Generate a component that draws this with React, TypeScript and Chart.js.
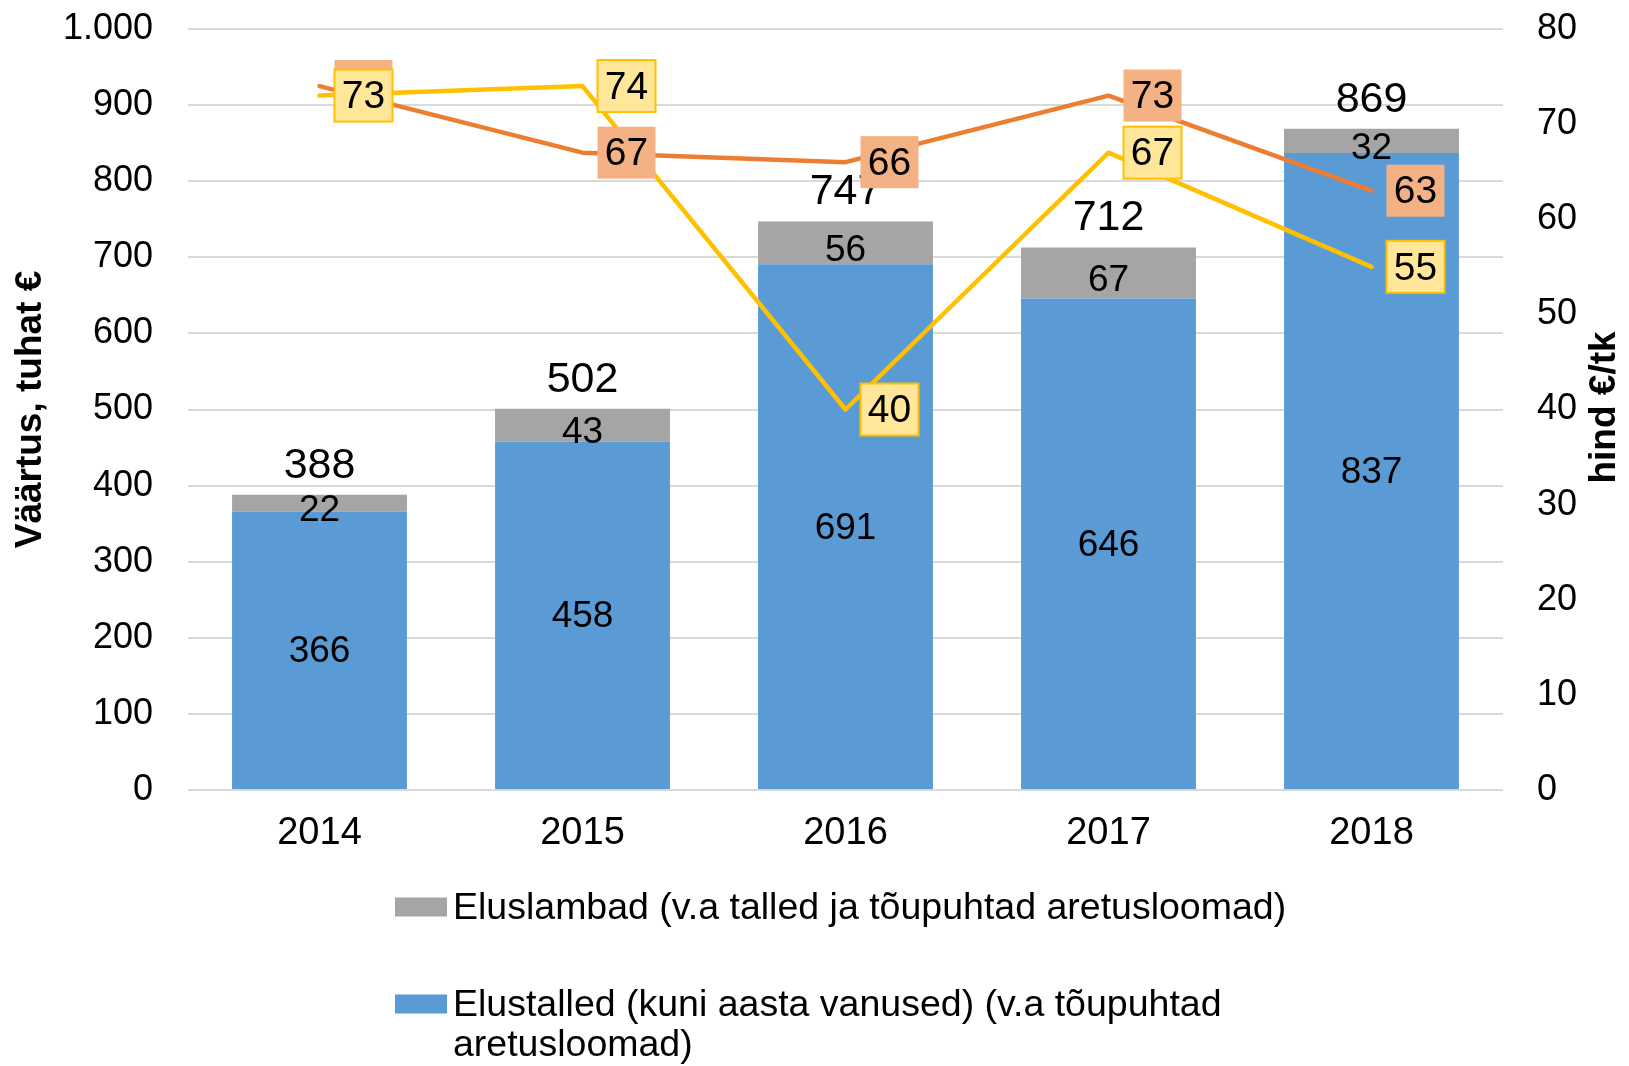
import React, { useEffect, useRef } from 'react';
import { Chart, registerables } from 'chart.js';

Chart.register(...registerables);

// ---------- DATA ----------
const categories = ['2014', '2015', '2016', '2017', '2018'];
const elustalled = [366, 458, 691, 646, 837];
const eluslambad = [22, 43, 56, 67, 32];
const totals = [388, 502, 747, 712, 869];
const hindA = [74, 67, 66, 73, 63];
const hindB = [73, 74, 40, 67, 55];

const nameTalled = 'Elustalled (kuni aasta vanused) (v.a tõupuhtad aretusloomad)';
const nameLambad = 'Eluslambad (v.a talled ja tõupuhtad aretusloomad)';
const nameHindA = 'Eluslammaste hind';
const nameHindB = 'Elustallede hind';
const leftTitle = 'Väärtus, tuhat €';
const rightTitle = 'hind €/tk';

// ---------- STYLE ----------
const FONT = "'Liberation Sans', Arial, Helvetica, sans-serif";
const BLUE = '#5B9BD5';
const GRAY = '#A5A5A5';
const ORANGE = '#ED7D31';
const ORANGE_FILL = '#F4B183';
const YELLOW = '#FFC000';
const YELLOW_FILL = '#FFE699';
const GRID = '#D9D9D9';

const IDX_A = 0;
const IDX_B = 1;
const IDX_BLUE = 2;
const IDX_GRAY = 3;

function fmtThousands(v: number): string {
  return String(v).replace(/\B(?=(\d{3})+(?!\d))/g, '.');
}

function wrapText(ctx: CanvasRenderingContext2D, text: string, maxWidth: number): string[] {
  const words = text.split(' ');
  const lines: string[] = [];
  let cur = '';
  for (const w of words) {
    const test = cur ? cur + ' ' + w : w;
    if (ctx.measureText(test).width > maxWidth && cur) {
      lines.push(cur);
      cur = w;
    } else {
      cur = test;
    }
  }
  if (cur) lines.push(cur);
  return lines;
}

const labelsPlugin = {
  id: 'customLabels',
  afterDatasetsDraw(chart: any) {
    const ctx: CanvasRenderingContext2D = chart.ctx;
    const blue = chart.getDatasetMeta(IDX_BLUE).data;
    const gray = chart.getDatasetMeta(IDX_GRAY).data;
    ctx.save();
    ctx.fillStyle = '#000';
    ctx.textAlign = 'center';
    ctx.textBaseline = 'middle';

    ctx.font = `37px ${FONT}`;
    blue.forEach((el: any, i: number) => {
      const { x, y, base } = el.getProps(['x', 'y', 'base'], true);
      ctx.fillText(String(elustalled[i]), x, (y + base) / 2 + 2);
    });
    gray.forEach((el: any, i: number) => {
      const { x, y, base } = el.getProps(['x', 'y', 'base'], true);
      ctx.fillText(String(eluslambad[i]), x, (y + base) / 2 + 8);
    });
    ctx.font = `43px ${FONT}`;
    gray.forEach((el: any, i: number) => {
      const { x, y } = el.getProps(['x', 'y'], true);
      ctx.fillText(String(totals[i]), x, y - 29);
    });

    const drawBoxes = (idx: number, vals: number[], fill: string, stroke: string | null) => {
      const pts = chart.getDatasetMeta(idx).data;
      ctx.font = `39px ${FONT}`;
      pts.forEach((p: any, i: number) => {
        const { x, y } = p.getProps(['x', 'y'], true);
        const cx = x + 44;
        const cy = y;
        const w = 58;
        const h = 52;
        ctx.fillStyle = fill;
        ctx.fillRect(cx - w / 2, cy - h / 2, w, h);
        if (stroke) {
          ctx.strokeStyle = stroke;
          ctx.lineWidth = 2;
          ctx.strokeRect(cx - w / 2, cy - h / 2, w, h);
        }
        ctx.fillStyle = '#000';
        ctx.fillText(String(vals[i]), cx, cy + 2);
      });
    };
    drawBoxes(IDX_A, hindA, ORANGE_FILL, null);
    drawBoxes(IDX_B, hindB, YELLOW_FILL, YELLOW);
    ctx.restore();
  },
  afterDraw(chart: any) {
    const ctx: CanvasRenderingContext2D = chart.ctx;
    const area = chart.chartArea;
    ctx.save();
    // axis titles (both read bottom-to-top)
    ctx.fillStyle = '#000';
    ctx.textAlign = 'center';
    ctx.textBaseline = 'middle';
    ctx.font = `bold 37px ${FONT}`;
    const midY = (area.top + area.bottom) / 2;
    ctx.save();
    ctx.translate(31, midY);
    ctx.rotate(-Math.PI / 2);
    ctx.fillText(leftTitle, 0, 0);
    ctx.restore();
    ctx.save();
    ctx.translate(1605, midY - 2);
    ctx.rotate(-Math.PI / 2);
    ctx.fillText(rightTitle, 0, 0);
    ctx.restore();

    // legend (bar series only)
    const items = [
      { text: chart.data.datasets[IDX_GRAY].label, color: GRAY },
      { text: chart.data.datasets[IDX_BLUE].label, color: BLUE },
    ];
    ctx.font = `37.5px ${FONT}`;
    ctx.textAlign = 'left';
    let y = 907;
    items.forEach((it) => {
      ctx.fillStyle = it.color;
      ctx.fillRect(395, y - 9.5, 52, 19);
      ctx.fillStyle = '#000';
      const lines = wrapText(ctx, it.text, 900);
      lines.forEach((ln, k) => {
        ctx.fillText(ln, 453, y + 2 + k * 40);
      });
      y += 97;
    });
    ctx.restore();
  },
};

export default function App() {
  const canvasRef = useRef<HTMLCanvasElement | null>(null);

  useEffect(() => {
    const canvas = canvasRef.current;
    if (!canvas) return;
    const chart = new Chart(canvas, {
      type: 'bar',
      data: {
        labels: categories,
        datasets: [
          {
            type: 'line',
            label: nameHindA,
            data: hindA,
            yAxisID: 'y1',
            borderColor: ORANGE,
            backgroundColor: ORANGE,
            borderWidth: 4.5,
            pointRadius: 0,
            tension: 0,
            borderCapStyle: 'round',
            borderJoinStyle: 'round',
          } as any,
          {
            type: 'line',
            label: nameHindB,
            data: hindB,
            yAxisID: 'y1',
            borderColor: YELLOW,
            backgroundColor: YELLOW,
            borderWidth: 4.5,
            pointRadius: 0,
            tension: 0,
            borderCapStyle: 'round',
            borderJoinStyle: 'round',
          } as any,
          {
            type: 'bar',
            label: nameTalled,
            data: elustalled,
            yAxisID: 'y',
            backgroundColor: BLUE,
            borderWidth: 0,
            categoryPercentage: 1,
            barPercentage: 0.665,
            stack: 's',
          } as any,
          {
            type: 'bar',
            label: nameLambad,
            data: eluslambad,
            yAxisID: 'y',
            backgroundColor: GRAY,
            borderWidth: 0,
            categoryPercentage: 1,
            barPercentage: 0.665,
            stack: 's',
          } as any,
        ],
      },
      options: {
        responsive: false,
        animation: false,
        devicePixelRatio: 1,
        layout: { padding: { top: 29, left: 0, right: 0, bottom: 0 } },
        plugins: {
          legend: { display: false },
          tooltip: { enabled: false },
          title: { display: false },
        },
        scales: {
          x: {
            stacked: true,
            grid: { display: false, drawTicks: false },
            border: { display: false },
            ticks: {
              color: '#000',
              padding: 21,
              font: { family: FONT, size: 38 },
            },
            afterFit: (scale: any) => {
              scale.height = 276;
              scale.paddingLeft = 0;
              scale.paddingRight = 0;
            },
          },
          y: {
            type: 'linear',
            position: 'left',
            stacked: true,
            min: 0,
            max: 1000,
            grid: { color: GRID, lineWidth: 2, drawTicks: false },
            border: { display: false },
            ticks: {
              stepSize: 100,
              color: '#000',
              padding: 35,
              font: { family: FONT, size: 36 },
              callback: (v: any) => fmtThousands(Number(v)),
            },
            afterFit: (scale: any) => {
              scale.width = 188;
              scale.paddingTop = 0;
              scale.paddingBottom = 0;
            },
          },
          y1: {
            type: 'linear',
            position: 'right',
            stacked: false,
            min: 0,
            max: 80,
            grid: { display: false, drawTicks: false },
            border: { display: false },
            ticks: {
              stepSize: 10,
              color: '#000',
              padding: 34,
              font: { family: FONT, size: 36 },
            },
            afterFit: (scale: any) => {
              scale.width = 126;
              scale.paddingTop = 0;
              scale.paddingBottom = 0;
            },
          },
        },
      } as any,
      plugins: [labelsPlugin],
    });
    return () => chart.destroy();
  }, []);

  return (
    <div style={{ position: 'fixed', left: 0, top: 0, width: 1629, height: 1066, background: '#fff' }}>
      <canvas ref={canvasRef} width={1629} height={1066} style={{ display: 'block' }} />
    </div>
  );
}
